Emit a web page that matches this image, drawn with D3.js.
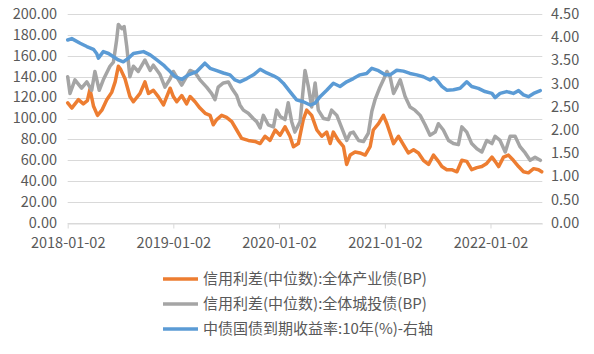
<!DOCTYPE html>
<meta charset="utf-8">
<style>
body { margin: 0; background: #fff; }
text { font-family: "Noto Sans CJK SC", "Noto Sans", sans-serif; fill: #595959; }
.axis text { font-size: 14.5px; }
.grid line { stroke: #d9d9d9; stroke-width: 1px; }
.legend text { font-size: 15px; }
</style>
<svg width="594" height="354"></svg>
<script src="https://d3js.org/d3.v7.min.js"></script>
<script>
// 信用利差(中位数):全体产业债(BP)
var industryDates = ["2018-01-02","2018-01-16","2018-02-08","2018-02-25","2018-03-11","2018-03-20","2018-04-01","2018-04-15","2018-04-30","2018-05-17","2018-06-03","2018-06-15","2018-06-26","2018-07-04","2018-07-19","2018-08-05","2018-08-17","2018-09-09","2018-09-26","2018-10-08","2018-10-25","2018-11-11","2018-11-29","2018-12-22","2019-01-02","2019-01-14","2019-01-31","2019-02-17","2019-03-01","2019-03-18","2019-04-04","2019-04-22","2019-05-09","2019-05-20","2019-06-01","2019-06-18","2019-07-05","2019-07-23","2019-08-09","2019-08-26","2019-09-18","2019-10-11","2019-10-29","2019-11-15","2019-12-02","2019-12-20","2020-01-06","2020-01-23","2020-02-09","2020-02-21","2020-03-09","2020-03-26","2020-04-07","2020-04-24","2020-05-12","2020-05-29","2020-06-15","2020-06-27","2020-07-08","2020-07-25","2020-08-12","2020-08-23","2020-09-04","2020-09-21","2020-10-08","2020-10-26","2020-11-12","2020-11-23","2020-12-11","2020-12-28","2021-01-09","2021-01-20","2021-02-01","2021-02-18","2021-03-07","2021-03-24","2021-04-11","2021-04-28","2021-05-15","2021-06-02","2021-06-19","2021-07-06","2021-07-18","2021-08-04","2021-08-21","2021-09-08","2021-09-25","2021-10-12","2021-10-29","2021-11-16","2021-12-03","2021-12-20","2022-01-07","2022-01-18","2022-01-30","2022-02-16","2022-03-05","2022-03-22","2022-04-09","2022-04-26","2022-05-13","2022-05-31","2022-06-17","2022-06-28"];
var industryBP = [115,110,118,114,117,128,112,103,108,118,125,135,150,147,138,121,116,124,135,124,127,121,113,129,121,116,122,114,121,116,110,105,103,94,99,103,101,97,89,81,79,78,76,83,79,89,84,92,83,73,76,99,108,103,89,83,87,76,87,79,73,56,65,68,67,65,73,89,95,103,95,86,76,83,75,67,70,67,60,56,65,59,54,51,51,49,60,59,51,53,54,57,63,59,54,63,65,60,54,49,48,52,51,49];

// 信用利差(中位数):全体城投债(BP)
var chengtouDates = ["2018-01-02","2018-01-10","2018-01-27","2018-02-19","2018-03-09","2018-03-26","2018-04-06","2018-04-21","2018-05-05","2018-05-28","2018-06-09","2018-06-20","2018-06-26","2018-07-08","2018-07-16","2018-07-25","2018-08-05","2018-08-17","2018-09-03","2018-09-26","2018-10-14","2018-10-25","2018-11-17","2018-12-04","2018-12-22","2019-01-02","2019-01-20","2019-01-31","2019-03-01","2019-03-18","2019-04-04","2019-04-27","2019-05-14","2019-05-26","2019-06-06","2019-06-24","2019-07-11","2019-07-23","2019-08-09","2019-08-20","2019-09-01","2019-09-18","2019-10-05","2019-10-17","2019-10-29","2019-11-09","2019-11-26","2019-12-14","2019-12-25","2020-01-06","2020-01-23","2020-02-03","2020-02-15","2020-02-26","2020-03-15","2020-04-01","2020-04-13","2020-04-24","2020-05-06","2020-05-17","2020-06-04","2020-06-21","2020-07-02","2020-07-20","2020-08-06","2020-08-23","2020-09-04","2020-09-15","2020-10-03","2020-10-20","2020-11-06","2020-11-18","2020-11-29","2020-12-16","2020-12-28","2021-01-09","2021-01-20","2021-02-01","2021-02-12","2021-02-24","2021-03-13","2021-03-30","2021-04-16","2021-05-04","2021-05-21","2021-06-07","2021-06-25","2021-07-06","2021-07-23","2021-08-10","2021-08-27","2021-09-13","2021-09-25","2021-10-12","2021-10-29","2021-11-16","2021-12-03","2021-12-20","2022-01-07","2022-01-18","2022-02-04","2022-02-22","2022-03-11","2022-03-28","2022-04-14","2022-05-02","2022-05-19","2022-06-05","2022-06-23"];
var chengtouBP = [140,124,137,129,135,127,145,127,137,150,154,175,190,186,188,169,140,150,145,156,146,151,142,130,138,145,137,132,146,144,137,130,124,118,130,134,135,129,122,113,108,105,100,97,91,103,94,92,108,102,99,115,97,87,97,146,130,111,134,108,100,99,108,103,91,79,86,87,79,78,86,107,118,130,137,145,140,124,130,137,121,111,108,103,94,84,87,95,89,79,76,75,92,87,76,71,68,79,76,83,79,68,83,83,73,67,60,63,60];

// 中债国债到期收益率:10年(%)-右轴
var yieldDates = ["2018-01-02","2018-01-16","2018-02-14","2018-03-09","2018-04-01","2018-04-12","2018-04-18","2018-05-05","2018-05-23","2018-06-09","2018-06-26","2018-07-13","2018-07-31","2018-08-17","2018-09-21","2018-10-14","2018-11-06","2018-11-29","2018-12-10","2018-12-22","2019-01-08","2019-01-31","2019-02-23","2019-03-24","2019-04-21","2019-05-09","2019-06-01","2019-06-24","2019-07-17","2019-08-03","2019-08-20","2019-09-13","2019-10-06","2019-10-29","2019-11-21","2019-12-14","2019-12-31","2020-01-17","2020-02-09","2020-03-03","2020-03-26","2020-04-19","2020-05-06","2020-05-23","2020-06-15","2020-07-08","2020-07-31","2020-08-23","2020-09-15","2020-10-08","2020-10-31","2020-11-18","2020-12-11","2021-01-03","2021-01-20","2021-02-12","2021-03-07","2021-03-30","2021-04-22","2021-05-15","2021-06-07","2021-06-19","2021-06-30","2021-07-18","2021-08-04","2021-08-27","2021-09-19","2021-10-12","2021-10-29","2021-11-21","2021-12-14","2022-01-07","2022-01-18","2022-02-04","2022-02-27","2022-03-22","2022-04-09","2022-04-26","2022-05-13","2022-05-31","2022-06-23"];
var yield10Y = [3.94,3.97,3.87,3.80,3.74,3.65,3.55,3.69,3.65,3.58,3.51,3.47,3.55,3.65,3.69,3.62,3.51,3.40,3.33,3.26,3.15,3.09,3.19,3.26,3.44,3.33,3.28,3.23,3.19,3.08,3.04,3.11,3.19,3.31,3.23,3.17,3.11,3.01,2.83,2.65,2.61,2.54,2.58,2.72,2.86,3.01,2.94,3.04,3.11,3.19,3.22,3.33,3.28,3.19,3.19,3.29,3.27,3.22,3.19,3.15,3.08,3.13,3.08,2.94,2.86,2.87,2.90,3.04,2.94,2.90,2.83,2.79,2.70,2.79,2.83,2.79,2.85,2.76,2.72,2.79,2.85];

var leftTicks = [0,20,40,60,80,100,120,140,160,180,200];
var rightTicks = [0,0.5,1,1.5,2,2.5,3,3.5,4,4.5];
var xTickLabels = ["2018-01-02","2019-01-02","2020-01-02","2021-01-02","2022-01-02"];
var legendNames = ["信用利差(中位数):全体产业债(BP)","信用利差(中位数):全体城投债(BP)","中债国债到期收益率:10年(%)-右轴"];
var colors = ["#ed7d31","#a5a5a5","#5b9bd5"];

var parse = d3.timeParse("%Y-%m-%d");
var svg = d3.select("svg");

var x = d3.scaleTime()
    .domain([parse("2018-01-02"), parse("2022-06-30")])
    .range([67.7, 542.3]);
var yL = d3.scaleLinear().domain([0, 200]).range([223, 14]);
var yR = d3.scaleLinear().domain([0, 4.5]).range([223, 14]);

// grid
svg.append("g").attr("class", "grid")
  .selectAll("line").data(leftTicks).enter().append("line")
    .attr("x1", x.range()[0]).attr("x2", x.range()[1])
    .attr("y1", function(d) { return Math.round(yL(d)) + 0.5; })
    .attr("y2", function(d) { return Math.round(yL(d)) + 0.5; });

// x axis
var xAxis = d3.axisBottom(x)
    .tickValues(xTickLabels.map(parse))
    .tickFormat(d3.timeFormat("%Y-%m-%d"))
    .tickSize(5).tickSizeOuter(0);
var gx = svg.append("g").attr("class", "axis")
    .attr("transform", "translate(0," + (Math.round(yL(0)) + 0.5) + ")")
    .call(xAxis);
gx.select(".domain").attr("stroke", "#d9d9d9");
gx.selectAll(".tick line").attr("stroke", "#d9d9d9");
gx.selectAll(".tick text").attr("dy", null).attr("y", 24).attr("fill", "#595959");

// left axis
var gl = svg.append("g").attr("class", "axis")
    .attr("transform", "translate(57,0)")
    .call(d3.axisLeft(yL).tickValues(leftTicks).tickFormat(d3.format(".2f")).tickSize(0));
gl.select(".domain").remove();
gl.selectAll(".tick text").attr("x", 0).attr("dy", "0.3em").attr("fill", "#595959");

// right axis
var gr = svg.append("g").attr("class", "axis")
    .attr("transform", "translate(551,0)")
    .call(d3.axisRight(yR).tickValues(rightTicks).tickFormat(d3.format(".2f")).tickSize(0));
gr.select(".domain").remove();
gr.selectAll(".tick text").attr("x", 0).attr("dy", "0.3em").attr("fill", "#595959");

// series
function series(dates, vals) {
  return dates.map(function(d, i) { return { date: parse(d), v: vals[i] }; });
}
var lines = [
  { data: series(industryDates, industryBP), y: yL },
  { data: series(chengtouDates, chengtouBP), y: yL },
  { data: series(yieldDates, yield10Y), y: yR }
];
lines.forEach(function(s, i) {
  var line = d3.line()
      .x(function(d) { return x(d.date); })
      .y(function(d) { return s.y(d.v); });
  svg.append("path")
    .datum(s.data)
    .attr("d", line)
    .attr("fill", "none")
    .attr("stroke", colors[i])
    .attr("stroke-width", 3.5)
    .attr("stroke-linejoin", "round")
    .attr("stroke-linecap", "round");
});

// legend
var legend = svg.append("g").attr("class", "legend")
  .selectAll("g").data(legendNames).enter().append("g")
    .attr("transform", function(d, i) { return "translate(163," + (279 + i * 25) + ")"; });
legend.append("line")
    .attr("x1", 0).attr("x2", 35)
    .attr("stroke", function(d, i) { return colors[i]; })
    .attr("stroke-width", 3.5);
legend.append("text")
    .attr("x", 40).attr("dy", "0.35em")
    .text(function(d) { return d; });
</script>
